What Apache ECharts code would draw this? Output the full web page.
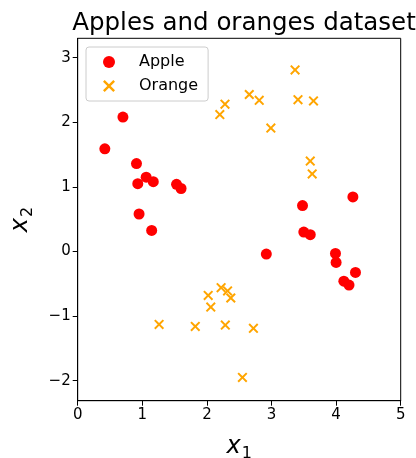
<!DOCTYPE html>
<html><head><meta charset="utf-8">
<script src="https://cdn.jsdelivr.net/npm/echarts@6/dist/echarts.min.js"></script>
<style>html,body{margin:0;padding:0;background:#fff}#c{width:416px;height:458px}</style>
</head><body><div id="c"></div>
<script>
const appleX = [0.70,0.42,0.91,0.93,1.06,1.17,1.53,1.60,0.95,1.145,4.26,3.48,3.50,3.60,2.92,3.99,4.00,4.30,4.12,4.20];
const appleY = [2.08,1.59,1.36,1.05,1.15,1.08,1.04,0.975,0.58,0.325,0.845,0.71,0.30,0.26,-0.04,-0.03,-0.17,-0.325,-0.46,-0.52];
const orangeX = [2.20,2.28,3.365,2.656,2.81,3.41,3.65,2.99,3.60,3.63,2.02,2.06,2.22,2.32,2.37,1.26,1.82,2.285,2.72,2.55];
const orangeY = [2.12,2.28,2.81,2.43,2.34,2.35,2.33,1.91,1.40,1.20,-0.68,-0.86,-0.56,-0.61,-0.72,-1.13,-1.16,-1.14,-1.19,-1.95];
const xTicks = [0,1,2,3,4,5];
const yTicks = [-2,-1,0,1,2,3];

const pair = (xs, ys) => xs.map((x,i)=>[x, ys[i]]);
const FONT = 'DejaVu Sans';
const fmt = v => String(v).replace('-', '\u2212');
const crossPath = 'path://M0,1.4L1.4,0L5,3.6L8.6,0L10,1.4L6.4,5L10,8.6L8.6,10L5,6.4L1.4,10L0,8.6L3.6,5Z';
const nameRich = {
  a: {fontFamily: FONT, fontStyle: 'italic', fontSize: 24, color: '#000'},
  b: {fontFamily: FONT, fontSize: 16, color: '#000', verticalAlign: 'bottom', padding: [14,0,0,1]}
};
const chart = echarts.init(document.getElementById('c'));
chart.setOption({
  animation: false,
  title: {text: 'Apples and oranges dataset', left: 239, top: 6, textAlign: 'center',
    textStyle: {fontFamily: FONT, fontSize: 24.5, fontWeight: 'normal', color: '#000'}},
  grid: {left: 77.7, right: 15.3, top: 38.3, bottom: 57.3, outerBoundsMode: 'none', containLabel: false,
    show: true, borderColor: '#000', borderWidth: 1, backgroundColor: 'transparent'},
  legend: {
    left: 86, top: 47, orient: 'vertical', itemGap: 8,
    padding: [7, 10, 7, 17],
    borderColor: '#cccccc', borderWidth: 1, borderRadius: 3, backgroundColor: '#fff',
    itemWidth: 12, itemHeight: 12,
    textStyle: {fontFamily: FONT, fontSize: 16, lineHeight: 16, color: '#000', padding: [0,0,0,19]},
    data: ['Apple', 'Orange']
  },
  xAxis: {
    type: 'value', min: 0, max: 5,
    axisLine: {show: true, onZero: false, lineStyle: {color: '#000', width: 1}},
    axisTick: {show: true, length: 5, lineStyle: {color: '#000'}, customValues: xTicks},
    axisLabel: {fontFamily: FONT, fontSize: 15, color: '#000', margin: 7, customValues: xTicks, formatter: fmt},
    splitLine: {show: false},
    name: '{a|x}{b|1}', nameLocation: 'middle', nameGap: 31,
    nameTextStyle: {rich: nameRich}
  },
  yAxis: {
    type: 'value', min: -2.31, max: 3.3,
    axisLine: {show: true, onZero: false, lineStyle: {color: '#000', width: 1}},
    axisTick: {show: true, length: 5, lineStyle: {color: '#000'}, customValues: yTicks},
    axisLabel: {fontFamily: FONT, fontSize: 15, color: '#000', margin: 7, customValues: yTicks, formatter: fmt},
    splitLine: {show: false},
    name: '{a|x}{b|2}', nameLocation: 'middle', nameGap: 42, nameRotate: 90,
    nameTextStyle: {rich: nameRich}
  },
  series: [
    {name: 'Apple', type: 'scatter', data: pair(appleX, appleY), symbol: 'circle', symbolSize: 11,
     itemStyle: {color: '#ff0000', opacity: 1}},
    {name: 'Orange', type: 'scatter', data: pair(orangeX, orangeY), symbol: crossPath, symbolSize: 10,
     itemStyle: {color: '#ffa500', opacity: 1}}
  ]
});
</script></body></html>
